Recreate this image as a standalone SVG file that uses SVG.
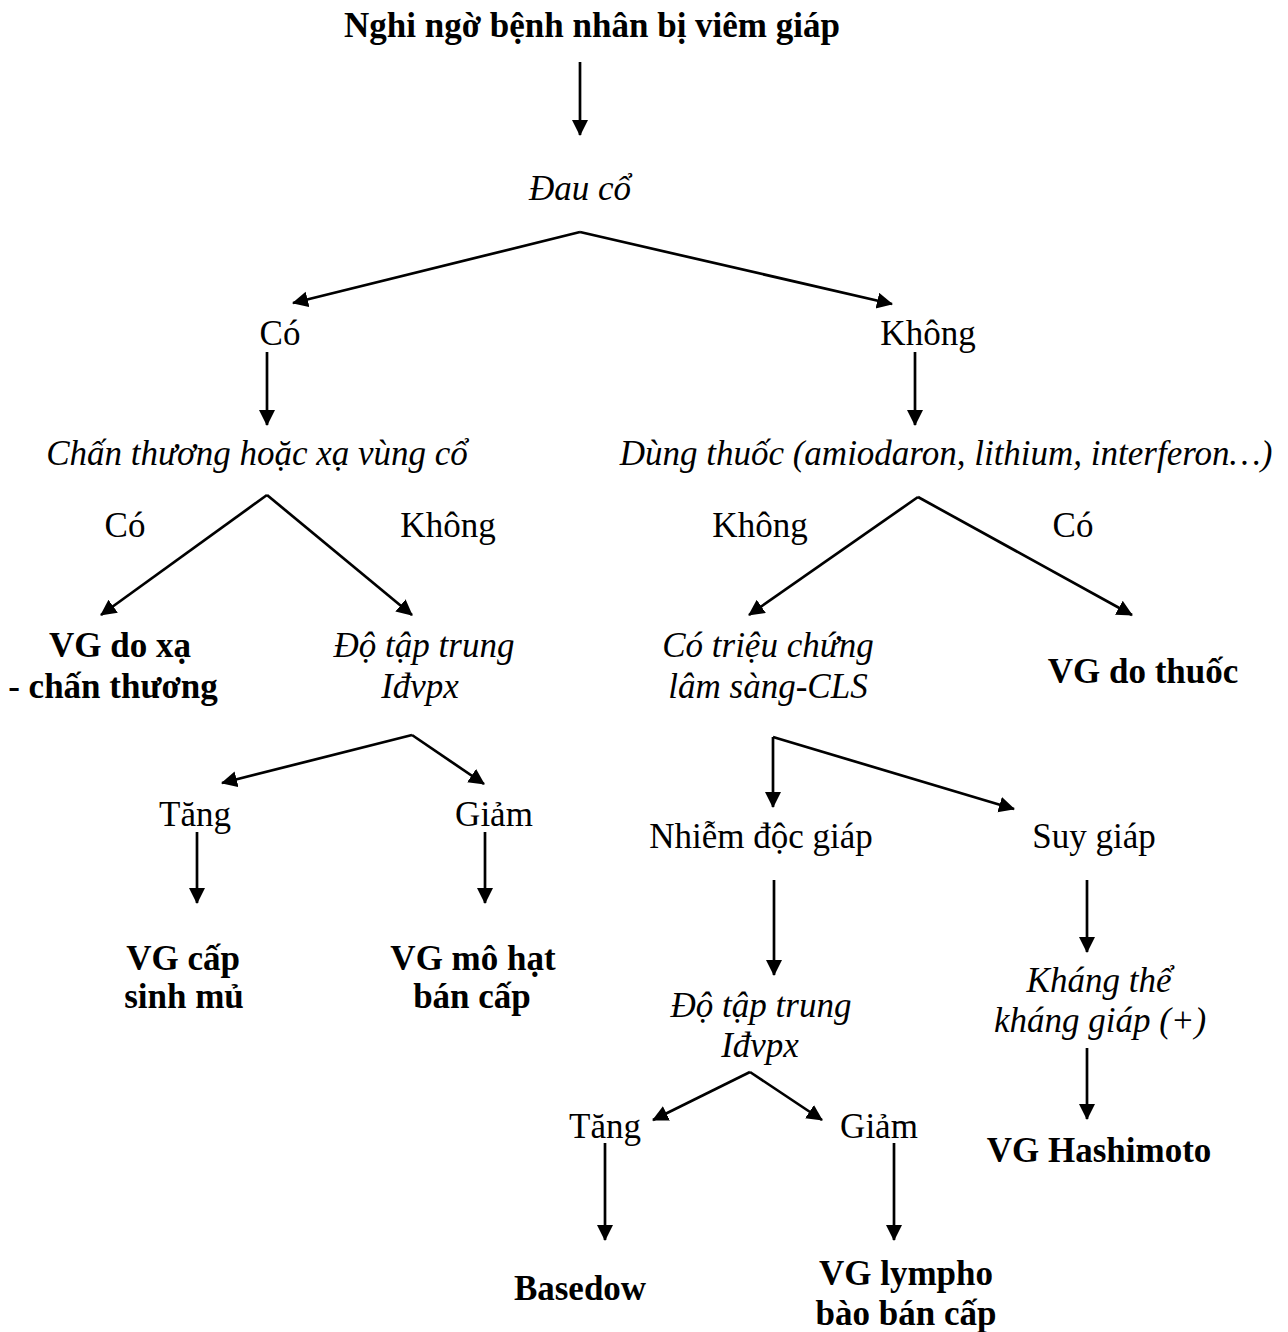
<svg xmlns="http://www.w3.org/2000/svg" width="1288" height="1332" viewBox="0 0 1288 1332">
<defs>
<marker id="ah" markerUnits="userSpaceOnUse" markerWidth="18" markerHeight="18" refX="15" refY="8" orient="auto">
<path d="M0,0 L16,8 L0,16 z" fill="#000"/>
</marker>
<style>
text{font-family:"Liberation Serif","Times New Roman",serif;font-size:35px;fill:#000;text-anchor:middle}
.b{font-weight:bold}
.i{font-style:italic}
.c path{fill:none;stroke:#000;stroke-width:2.7;marker-end:url(#ah)}
</style>
</defs>
<rect width="1288" height="1332" fill="#fff"/>
<g class="c" id="connectors">
<path d="M580,62 L580,135"/>
<path d="M580,232 L293,303"/>
<path d="M580,232 L892,304"/>
<path d="M267,352 L267,425"/>
<path d="M915,352 L915,425"/>
<path d="M267,495 L101,615"/>
<path d="M267,495 L412,615"/>
<path d="M918,497 L749,615"/>
<path d="M918,497 L1132,615"/>
<path d="M412,735 L222,783"/>
<path d="M412,735 L484,784"/>
<path d="M197,832 L197,903"/>
<path d="M485,832 L485,903"/>
<path d="M773,737 L773,807"/>
<path d="M773,737 L1014,809"/>
<path d="M774,880 L774,975"/>
<path d="M1087,880 L1087,952"/>
<path d="M1087,1048 L1087,1119"/>
<path d="M750,1072 L653,1120"/>
<path d="M750,1072 L822,1120"/>
<path d="M605,1143 L605,1240"/>
<path d="M894,1143 L894,1240"/>
</g>
<g id="n-title"><text class="b" x="592" y="37">Nghi ngờ bệnh nhân bị viêm giáp</text></g>
<g id="n-dauco"><text class="i" x="580" y="200">Đau cổ</text></g>
<g id="n-co1"><text x="280" y="345">Có</text></g>
<g id="n-khong1"><text x="928" y="345">Không</text></g>
<g id="n-chanthuong"><text class="i" x="257" y="465">Chấn thương hoặc xạ vùng cổ</text></g>
<g id="n-dungthuoc"><text class="i" x="946" y="465">Dùng thuốc (amiodaron, lithium, interferon…)</text></g>
<g id="l-co2"><text x="125" y="537">Có</text></g>
<g id="l-khong2"><text x="448" y="537">Không</text></g>
<g id="l-khong3"><text x="760" y="537">Không</text></g>
<g id="l-co3"><text x="1073" y="537">Có</text></g>
<g id="n-vgdoxa"><text class="b" x="120" y="657">VG do xạ</text><text class="b" x="113" y="698">- chấn thương</text></g>
<g id="n-dotaptrung1"><text class="i" x="424" y="657">Độ tập trung</text><text class="i" x="420" y="698">Iđvpx</text></g>
<g id="n-trieuchung"><text class="i" x="768" y="657">Có triệu chứng</text><text class="i" x="768" y="698">lâm sàng-CLS</text></g>
<g id="n-vgdothuoc"><text class="b" x="1143" y="683">VG do thuốc</text></g>
<g id="n-tang1"><text x="195" y="826">Tăng</text></g>
<g id="n-giam1"><text x="494" y="826">Giảm</text></g>
<g id="n-vgcap"><text class="b" x="183" y="970">VG cấp</text><text class="b" x="184" y="1008">sinh mủ</text></g>
<g id="n-vgmohat"><text class="b" x="473" y="970">VG mô hạt</text><text class="b" x="472" y="1008">bán cấp</text></g>
<g id="n-nhiemdoc"><text x="761" y="848">Nhiễm độc giáp</text></g>
<g id="n-suygiap"><text x="1094" y="848">Suy giáp</text></g>
<g id="n-dotaptrung2"><text class="i" x="761" y="1017">Độ tập trung</text><text class="i" x="760" y="1057">Iđvpx</text></g>
<g id="n-khangthe"><text class="i" x="1099" y="992">Kháng thể</text><text class="i" x="1100" y="1032">kháng giáp (+)</text></g>
<g id="n-hashimoto"><text class="b" x="1099" y="1162">VG Hashimoto</text></g>
<g id="n-tang2"><text x="605" y="1138">Tăng</text></g>
<g id="n-giam2"><text x="879" y="1138">Giảm</text></g>
<g id="n-basedow"><text class="b" x="580" y="1300">Basedow</text></g>
<g id="n-vglympho"><text class="b" x="906" y="1285">VG lympho</text><text class="b" x="906" y="1325">bào bán cấp</text></g>
</svg>
